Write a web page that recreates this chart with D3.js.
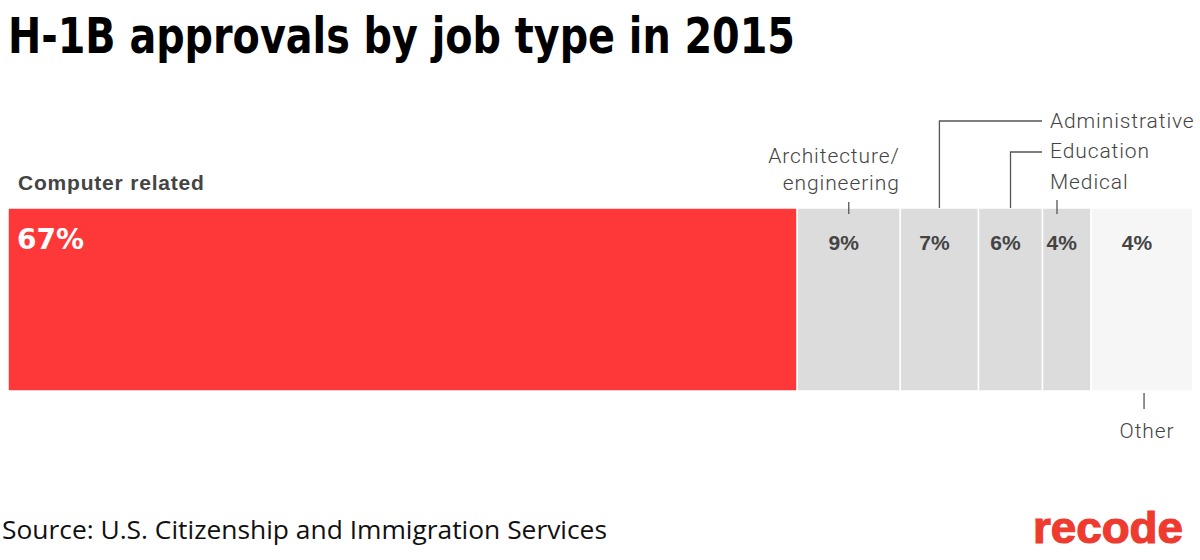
<!DOCTYPE html>
<html>
<head>
<meta charset="utf-8">
<script src="https://cdn.jsdelivr.net/npm/d3@7"></script>
<style>
  body { margin: 0; background: #fff; }
  svg { display: block; }
</style>
</head>
<body>
<svg id="chart" width="1200" height="560"></svg>
<script>
// DATA
const categories = ["Computer related", "Architecture/engineering", "Administrative", "Education", "Medical", "Other"];
const shares = [66.6, 8.7, 6.6, 5.4, 4.1, 8.6];   // segment widths as drawn
const pctLabels = ["67%", "9%", "7%", "6%", "4%", "4%"];
const fills = ["#fe3838", "#dcdcdc", "#dcdcdc", "#dcdcdc", "#dcdcdc", "#f6f6f6"];

const width = 1200, height = 560;
const margin = { left: 8, right: 7 };
const barTop = 208, barBottom = 391;

const svg = d3.select("svg#chart");

const ends = Array.from(d3.cumsum(shares));
const segs = shares.map((v, i) => ({
    name: categories[i], label: pctLabels[i], fill: fills[i],
    x0: ends[i] - v, x1: ends[i]
}));

// SCALES
const xScale = d3.scaleLinear()
    .domain([0, d3.sum(shares)])
    .range([margin.left, width - margin.right]);

const yScale = d3.scaleBand()
    .domain(["2015"])
    .range([barTop, barBottom]);

const mid = d => (xScale(d.x0) + xScale(d.x1)) / 2;

// TITLE
svg.append("text")
    .attr("x", 8).attr("y", 53)
    .attr("font-family", "DejaVu Sans Condensed, DejaVu Sans")
    .attr("font-weight", 700)
    .attr("font-size", 50)
    .attr("textLength", 787)
    .attr("lengthAdjust", "spacingAndGlyphs")
    .attr("fill", "#000")
    .text("H-1B approvals by job type in 2015");

// BARS
svg.append("g").selectAll("rect")
    .data(segs)
    .join("rect")
    .attr("x", d => xScale(d.x0))
    .attr("width", d => xScale(d.x1) - xScale(d.x0))
    .attr("y", yScale("2015"))
    .attr("height", yScale.bandwidth())
    .attr("fill", d => d.fill)
    .attr("stroke", "#fff")
    .attr("stroke-width", 1.5);

// VALUE LABELS
svg.append("text")
    .attr("x", xScale(segs[0].x0) + 9).attr("y", 249)
    .attr("font-family", "DejaVu Sans, sans-serif")
    .attr("font-weight", 700)
    .attr("font-size", 28)
    .attr("fill", "#fff")
    .text(segs[0].label);

svg.append("g").selectAll("text")
    .data(segs.slice(1))
    .join("text")
    .attr("x", d => mid(d) - 5)
    .attr("y", 250)
    .attr("text-anchor", "middle")
    .attr("font-family", "Liberation Sans, Arial, sans-serif")
    .attr("font-weight", 700)
    .attr("font-size", 21)
    .attr("fill", "#444")
    .text(d => d.label);

// CATEGORY LABELS + LEADERS
const lab = g => g.attr("font-family", "Roboto, sans-serif")
    .attr("font-weight", 300)
    .attr("font-size", 21)
    .attr("letter-spacing", 0.9)
    .attr("fill", "#444");
const lineStyle = p => p.attr("fill", "none").attr("stroke", "#555").attr("stroke-width", 1.3);

// Computer related
svg.append("text")
    .attr("x", 18).attr("y", 190)
    .attr("font-family", "Liberation Sans, Arial, sans-serif")
    .attr("font-weight", 700)
    .attr("font-size", 21)
    .attr("letter-spacing", 0.8)
    .attr("fill", "#444")
    .text(segs[0].name);

// Architecture/engineering
const arch = svg.append("text").call(lab)
    .attr("text-anchor", "end");
arch.append("tspan").attr("x", mid(segs[1]) + 51).attr("y", 163).text("Architecture/");
arch.append("tspan").attr("x", mid(segs[1]) + 51).attr("y", 190).text("engineering");
svg.append("path").call(lineStyle)
    .attr("d", `M${mid(segs[1])},202V214`);

// Administrative / Education / Medical
const rightX = 1050;
svg.append("text").call(lab).attr("x", rightX).attr("y", 128).text(segs[2].name);
svg.append("path").call(lineStyle)
    .attr("d", `M${mid(segs[2])},${barTop}V121H${rightX - 8}`);

svg.append("text").call(lab).attr("x", rightX).attr("y", 158).text(segs[3].name);
svg.append("path").call(lineStyle)
    .attr("d", `M${mid(segs[3])},${barTop}V152H${rightX - 8}`);

svg.append("text").call(lab).attr("x", rightX).attr("y", 189).text(segs[4].name);
svg.append("path").call(lineStyle)
    .attr("d", `M${rightX + 7},200V214`);

// Other
svg.append("text").call(lab)
    .attr("x", mid(segs[5]) + 5).attr("y", 438)
    .attr("text-anchor", "middle")
    .text(segs[5].name);
svg.append("path").call(lineStyle)
    .attr("d", `M${mid(segs[5]) + 2},393V409`);

// SOURCE
svg.append("text")
    .attr("x", 2).attr("y", 539)
    .attr("font-family", "Open Sans, sans-serif")
    .attr("font-size", 25)
    .attr("textLength", 605)
    .attr("lengthAdjust", "spacingAndGlyphs")
    .attr("fill", "#111")
    .text("Source: U.S. Citizenship and Immigration Services");

// LOGO
svg.append("text")
    .attr("x", 1033).attr("y", 543)
    .attr("font-family", "Liberation Sans, Arial, sans-serif")
    .attr("font-weight", 700)
    .attr("font-size", 45)
    .attr("textLength", 150)
    .attr("lengthAdjust", "spacingAndGlyphs")
    .attr("fill", "#ee3a2f")
    .attr("stroke", "#ee3a2f")
    .attr("stroke-width", 1.2)
    .text("recode");
</script>
</body>
</html>
